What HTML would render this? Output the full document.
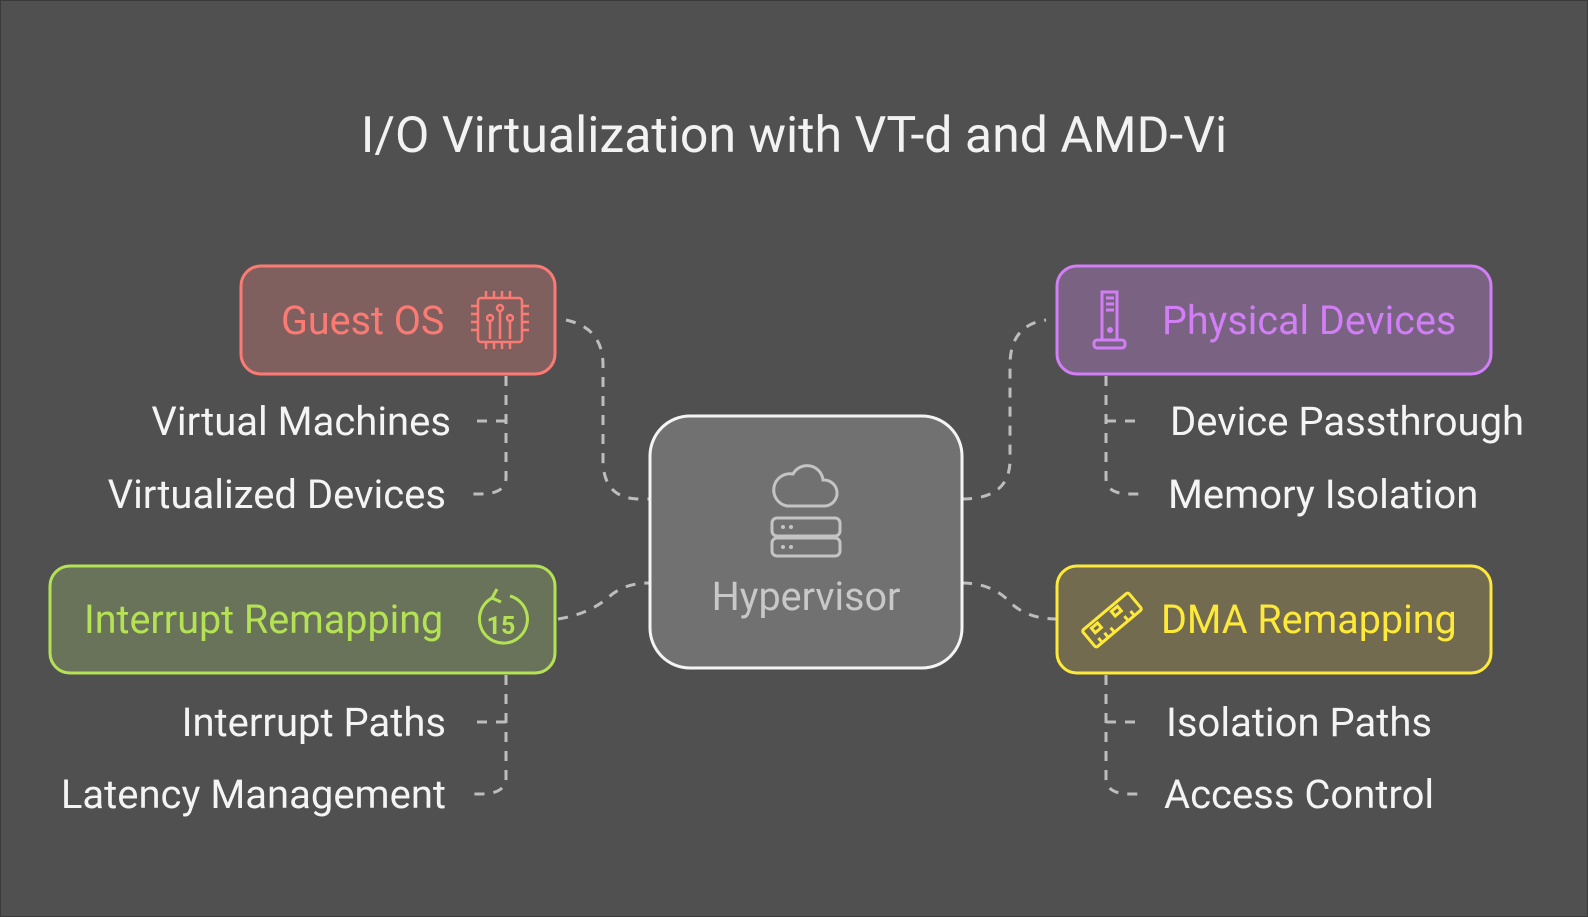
<!DOCTYPE html>
<html><head><meta charset="utf-8"><style>
html,body{margin:0;padding:0;background:#505050;}
svg{display:block;}
text{font-family:"Roboto","Liberation Sans",sans-serif;}
</style></head><body>
<svg width="1588" height="917" viewBox="0 0 1588 917" xmlns="http://www.w3.org/2000/svg">
<rect x="0" y="0" width="1588" height="917" fill="#505050" stroke="#3a3a3a" stroke-width="2"/>
<text x="794" y="152" text-anchor="middle" font-size="50" fill="#f2f2f2">I/O Virtualization with VT-d and AMD-Vi</text>

<g fill="none" stroke="#bdbdbd" stroke-width="3" stroke-dasharray="10 9">
<path d="M566,320 Q603,328 603,365 L603,460 Q603,499 640,499 L649,499"/>
<path d="M558,619 Q590,614 610,596 Q625,583 649,583"/>
<path d="M962,499 Q1010,499 1010,460 L1010,365 Q1010,325 1046,320"/>
<path d="M962,583 Q990,583 1008,600 Q1025,619 1057,619"/>
<path d="M506,376 L506,478 Q506,494 480,494 L470,494"/>
<path d="M506,421 L472,421"/>
<path d="M506,675 L506,778 Q506,794 480,794 L470,794"/>
<path d="M506,722 L472,722"/>
<path d="M1106,376 L1106,478 Q1106,494 1130,494 L1145,494"/>
<path d="M1106,421 L1142,421"/>
<path d="M1106,675 L1106,778 Q1106,794 1130,794 L1145,794"/>
<path d="M1106,722 L1142,722"/>
</g>

<rect x="241" y="266" width="314" height="108" rx="20" fill="#805f5f" stroke="#fb7b74" stroke-width="3"/>
<text x="281" y="334" font-size="39.5" fill="#fb7b74">Guest OS</text>
<g fill="none" stroke="#fb7b74" stroke-width="2.5">
<rect x="478" y="298" width="44" height="44" rx="3"/>
<path d="M486,298v-7M494,298v-7M502,298v-7M510,298v-7M486,342v7M494,342v7M502,342v7M510,342v7M478,306h-7M478,314h-7M478,322h-7M478,330h-7M522,306h7M522,314h7M522,322h7M522,330h7"/>
<circle cx="500" cy="308" r="3"/><circle cx="490" cy="318" r="3"/><circle cx="510" cy="318" r="3"/>
<path d="M500,311v28M490,321v18M510,321v18"/>
</g>

<rect x="1057" y="266" width="434" height="108" rx="20" fill="#7a6282" stroke="#d27ef6" stroke-width="3"/>
<text x="1162" y="334" font-size="39.5" fill="#d27ef6">Physical Devices</text>
<g fill="none" stroke="#d27ef6" stroke-width="3">
<rect x="1102" y="292" width="15" height="48"/>
<path d="M1106,298h8M1106,304h8M1106,310h8"/>
<circle cx="1110" cy="330" r="1.5" fill="#d27ef6"/>
<rect x="1094" y="340" width="31" height="8" rx="3"/>
</g>

<rect x="50" y="566" width="505" height="107" rx="20" fill="#68735a" stroke="#b5e254" stroke-width="3"/>
<text x="84" y="633" font-size="39.5" fill="#b5e254">Interrupt Remapping</text>
<g fill="none" stroke="#b5e254" stroke-width="3">
<path d="M492,598 A24,24 0 1 0 510,596"/>
<path d="M497,589 L492,598 L501,602"/>
</g>
<text x="501" y="634" text-anchor="middle" font-size="25" font-weight="bold" fill="#b5e254">15</text>

<rect x="1057" y="566" width="434" height="107" rx="20" fill="#726b4f" stroke="#fde93a" stroke-width="3"/>
<text x="1161" y="633" font-size="39.5" fill="#fde93a">DMA Remapping</text>
<g fill="none" stroke="#fde93a" stroke-width="3" transform="rotate(-40 1112 620)">
<rect x="1082" y="609" width="60" height="22" rx="2"/>
<path d="M1090,631v-6M1098,631v-6M1106,631v-6M1124,631v-6M1132,631v-6"/>
<rect x="1091" y="613" width="8" height="6"/><rect x="1117" y="613" width="8" height="6"/>
</g>

<rect x="650" y="416" width="312" height="252" rx="40" fill="#717171" stroke="#f4f4f4" stroke-width="3"/>
<g fill="none" stroke="#c4c4c4" stroke-width="3">
<path d="M787,506 h38 a13,13 0 0 0 -2,-26 a16,16 0 0 0 -30,-6 a14,14 0 0 0 -6,32z"/>
<rect x="772" y="518" width="68" height="18" rx="5"/>
<rect x="772" y="538" width="68" height="18" rx="5"/>
</g>
<g fill="#c4c4c4"><circle cx="783" cy="527" r="2"/><circle cx="791" cy="527" r="2"/><circle cx="783" cy="547" r="2"/><circle cx="791" cy="547" r="2"/></g>
<text x="806" y="610" text-anchor="middle" font-size="39.5" fill="#c8c8c8">Hypervisor</text>

<g font-size="40" fill="#f4f4f4">
<text x="451" y="435" text-anchor="end">Virtual Machines</text>
<text x="446" y="508" text-anchor="end">Virtualized Devices</text>
<text x="446" y="736" text-anchor="end">Interrupt Paths</text>
<text x="446" y="808" text-anchor="end">Latency Management</text>
<text x="1170" y="435">Device Passthrough</text>
<text x="1168" y="508">Memory Isolation</text>
<text x="1166" y="736">Isolation Paths</text>
<text x="1164" y="808">Access Control</text>
</g>
</svg>
</body></html>
